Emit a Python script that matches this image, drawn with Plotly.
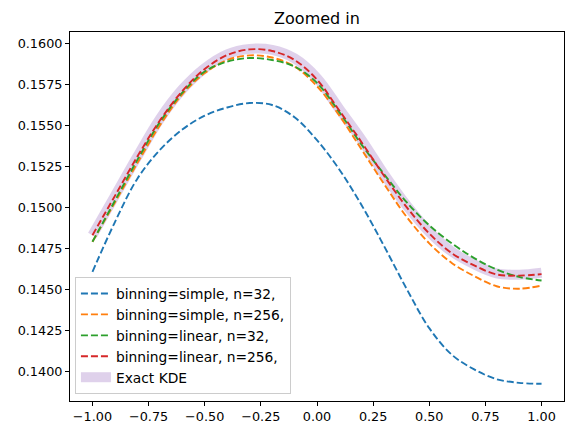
import plotly.graph_objects as go

x_vals = [-1.0, -0.9, -0.8, -0.7, -0.6, -0.5, -0.4, -0.3, -0.2, -0.1, 0.0,
          0.1, 0.2, 0.3, 0.4, 0.5, 0.6, 0.7, 0.8, 0.9, 1.0]

simple_32 = [0.14606, 0.1491, 0.15175, 0.1535, 0.15475, 0.1556, 0.1561, 0.15637,
             0.15625, 0.1555, 0.1541, 0.1523, 0.1501, 0.1476, 0.1450, 0.14262,
             0.1410, 0.1401, 0.13950, 0.13928, 0.13922]
simple_256 = [0.1479, 0.1503, 0.1527, 0.1550, 0.1569, 0.1582, 0.1590, 0.15928,
              0.15915, 0.1586, 0.1574, 0.1556, 0.1535, 0.1514, 0.1494, 0.1478,
              0.1466, 0.1458, 0.14518, 0.14503, 0.14522]
linear_32 = [0.1479, 0.1504, 0.1529, 0.1552, 0.1570, 0.1583, 0.1589, 0.15912,
             0.1590, 0.1586, 0.1576, 0.1558, 0.1538, 0.1520, 0.1503, 0.1489,
             0.1478, 0.1469, 0.1462, 0.14575, 0.14553]
linear_256 = [0.1483, 0.1507, 0.1531, 0.1553, 0.1571, 0.15845, 0.1593, 0.15965,
              0.15955, 0.1590, 0.1578, 0.1559, 0.15395, 0.1519, 0.1500, 0.1484,
              0.1472, 0.14645, 0.1459, 0.14583, 0.14592]
exact_kde = [0.1483, 0.1507, 0.1531, 0.1554, 0.1572, 0.1585, 0.15935, 0.15968,
             0.15962, 0.1591, 0.1579, 0.1560, 0.1541, 0.1520, 0.1501, 0.1485,
             0.1473, 0.14652, 0.14597, 0.14588, 0.14600]

series = [
    ("binning=simple, n=32,", simple_32, "#1f77b4"),
    ("binning=simple, n=256,", simple_256, "#ff7f0e"),
    ("binning=linear, n=32,", linear_32, "#2ca02c"),
    ("binning=linear, n=256,", linear_256, "#d62728"),
]

x_ticks = [-1.0, -0.75, -0.5, -0.25, 0.0, 0.25, 0.5, 0.75, 1.0]
y_ticks = [0.1400, 0.1425, 0.1450, 0.1475, 0.1500, 0.1525, 0.1550, 0.1575, 0.1600]

fig = go.Figure()

fig.add_trace(go.Scatter(
    x=x_vals, y=exact_kde, mode="lines", name="Exact KDE",
    line=dict(color="rgba(148,103,189,0.3)", width=10, shape="spline", smoothing=1.0),
    legendrank=5,
))

for i, (name, vals, color) in enumerate(series):
    fig.add_trace(go.Scatter(
        x=x_vals, y=vals, mode="lines", name=name,
        line=dict(color=color, width=1.9, dash="7px,3px", shape="spline", smoothing=1.0),
        legendrank=i + 1,
    ))

axis_common = dict(
    showgrid=False, zeroline=False, showline=True, linecolor="black", linewidth=1,
    mirror=True, ticks="outside", ticklen=4, tickwidth=1, tickcolor="black",
    tickfont=dict(family="DejaVu Sans", size=12.8, color="black"),
)

fig.update_layout(
    width=574, height=435,
    margin=dict(l=70, r=10, t=32, b=34),
    plot_bgcolor="white", paper_bgcolor="white",
    font=dict(family="DejaVu Sans", size=12.8, color="black"),
    title=dict(text="Zoomed in", x=0.5, xref="paper", xanchor="center",
               y=1 - 18 / 435, yref="container", yanchor="middle",
               font=dict(family="DejaVu Sans", size=16, color="black")),
    xaxis=dict(range=[-1.1, 1.1], tickvals=x_ticks,
               ticktext=[f"{v:.2f}".replace("-", "\u2212") for v in x_ticks], **axis_common),
    yaxis=dict(range=[0.13817, 0.16071], tickvals=y_ticks,
               ticktext=[f"{v:.4f}" for v in y_ticks], **axis_common),
    legend=dict(x=0.01, y=0.019, xanchor="left", yanchor="bottom",
                bgcolor="rgba(255,255,255,0.8)", bordercolor="#cccccc", borderwidth=1,
                font=dict(family="DejaVu Sans", size=13.8, color="black"),
                traceorder="normal", tracegroupgap=0),
    showlegend=True,
)

fig.write_html("out.html")
